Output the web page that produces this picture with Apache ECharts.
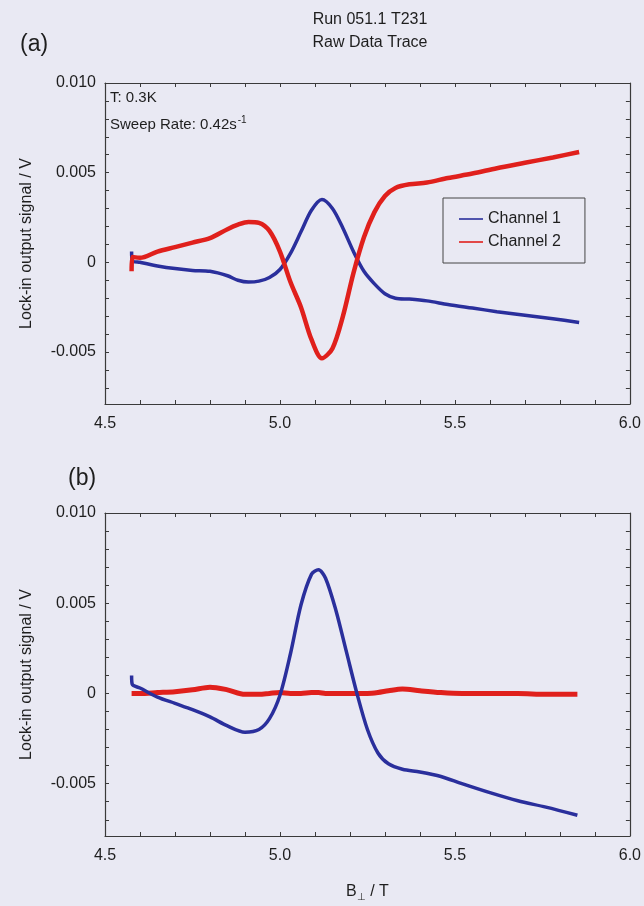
<!DOCTYPE html>
<html><head><meta charset="utf-8">
<script src="https://cdn.jsdelivr.net/npm/echarts@6/dist/echarts.min.js"></script>
<style>html,body{margin:0;padding:0;background:#e9e9f3;}#c{width:644px;height:906px;}</style>
</head><body><div id="c"></div>
<script>
// ---- Data (B in tesla, signal in volts) ----
const topB   = [4.576, 4.578, 4.60, 4.65, 4.70, 4.75, 4.80, 4.85, 4.88, 4.91, 4.94, 4.97, 5.00, 5.03, 5.06, 5.09, 5.12, 5.15, 5.18, 5.21, 5.24, 5.27, 5.30, 5.33, 5.37, 5.42, 5.48, 5.55, 5.62, 5.70, 5.78, 5.855];
const topCh1 = [0.0006, 0.0001, 0.0000, -0.0002, -0.00035, -0.00045, -0.0005, -0.00075, -0.0010, -0.0011, -0.00105, -0.00085, -0.0004, 0.0005, 0.0017, 0.0029, 0.0035, 0.0030, 0.0019, 0.0006, -0.0005, -0.0012, -0.00175, -0.0020, -0.00205, -0.00215, -0.00235, -0.00255, -0.00275, -0.00295, -0.00315, -0.00335];
const topCh2 = [-0.0005, 0.0003, 0.00025, 0.0006, 0.00085, 0.0011, 0.00135, 0.00185, 0.0021, 0.00225, 0.0022, 0.00175, 0.0006, -0.0011, -0.0025, -0.0043, -0.00535, -0.0048, -0.0030, -0.0006, 0.0014, 0.0028, 0.0037, 0.00415, 0.00435, 0.00445, 0.0047, 0.00495, 0.00525, 0.00555, 0.00585, 0.00615];

const botB   = [4.576, 4.578, 4.60, 4.65, 4.70, 4.75, 4.80, 4.85, 4.90, 4.94, 4.97, 5.00, 5.03, 5.06, 5.09, 5.11, 5.13, 5.16, 5.19, 5.22, 5.25, 5.28, 5.31, 5.35, 5.40, 5.46, 5.52, 5.60, 5.68, 5.76, 5.85];
const botCh1 = [0.0010, 0.0005, 0.0003, -0.0002, -0.00055, -0.0009, -0.0013, -0.0018, -0.00215, -0.0020, -0.0014, -0.0001, 0.0022, 0.0049, 0.0066, 0.00685, 0.0064, 0.0046, 0.0023, 0.0000, -0.0020, -0.0033, -0.0039, -0.0042, -0.00435, -0.0046, -0.0050, -0.0055, -0.00595, -0.0063, -0.00675];
const botCh2 = [0.0000, 0.0000, 0.0000, 0.00005, 0.0001, 0.0002, 0.00035, 0.0002, -0.00005, -0.00005, 0.0000, 0.00005, 0.0000, 0.0000, 0.00005, 0.00005, 0.0000, 0.0000, 0.0000, 0.0000, 0.0000, 0.00005, 0.00015, 0.00025, 0.00015, 0.00005, 0.0000, 0.0000, 0.0000, -0.00005, -0.00005];

const seriesNames = ['Channel 1', 'Channel 2'];
const xTickLabels = [4.5, 5.0, 5.5, 6.0];
const yTickLabels = [-0.005, 0, 0.005, 0.010];
const xRange = [4.5, 6.0];
const yRange = [-0.0079, 0.010];

// ---- Styling ----
const FONT = 'Liberation Sans, Arial, sans-serif';
const TXT = '#1e1e1e';
const AX = '#3a3a3a';
const BLUE = '#2a2f9c';
const RED = '#e0201c';

const xMinor = []; for (let i = 45; i <= 60; i++) xMinor.push(i / 10);
const yMinor = []; for (let i = -7; i <= 10; i++) yMinor.push(i / 1000);

function xAxis(grid, pos, labels, name) {
  return {
    type: 'value', gridIndex: grid, position: pos, min: xRange[0], max: xRange[1],
    axisLine: { show: true, onZero: false, lineStyle: { color: AX, width: 1.2 } },
    axisTick: { show: true, inside: true, length: 4, customValues: xMinor, lineStyle: { color: AX } },
    axisLabel: { show: labels, customValues: xTickLabels, margin: 12, fontSize: 16, color: TXT, fontFamily: FONT,
      formatter: v => v.toFixed(1) },
    splitLine: { show: false },
    name: name || '', nameLocation: 'middle', nameGap: 46,
    nameTextStyle: { fontSize: 16, color: TXT, fontFamily: FONT,
      rich: { sub: { fontSize: 10, color: TXT, fontFamily: FONT, padding: [10, 0, 0, 0] } } }
  };
}
function yAxis(grid, pos, labels, name) {
  return {
    type: 'value', gridIndex: grid, position: pos, min: yRange[0], max: yRange[1],
    axisLine: { show: true, onZero: false, lineStyle: { color: AX, width: 1.2 } },
    axisTick: { show: true, inside: true, length: 4, customValues: yMinor, lineStyle: { color: AX } },
    axisLabel: { show: labels, customValues: yTickLabels, margin: 9, fontSize: 16, color: TXT, fontFamily: FONT,
      formatter: v => (Math.abs(v) < 1e-12 ? '0' : v.toFixed(3)) },
    splitLine: { show: false },
    name: name || '', nameLocation: 'middle', nameGap: 70, nameRotate: 90,
    nameTextStyle: { fontSize: 16, color: TXT, fontFamily: FONT }
  };
}
function pairs(xs, ys) { return xs.map((x, i) => [x, ys[i]]); }
function line(name, xi, yi, data, color, w) {
  return { name, type: 'line', xAxisIndex: xi, yAxisIndex: yi, data, symbol: 'none', showSymbol: false,
    smooth: 0.3, color, itemStyle: { color }, lineStyle: { color, width: w }, silent: true, animation: false };
}

const chart = echarts.init(document.getElementById('c'), null, { renderer: 'canvas' });
chart.setOption({
  backgroundColor: '#e9e9f3',
  animation: false,
  grid: [
    { left: 105, top: 83, width: 526, height: 321 },
    { left: 105, top: 513, width: 525, height: 323 }
  ],
  xAxis: [
    xAxis(0, 'bottom', true),
    xAxis(1, 'bottom', true, 'B{sub|⊥} / T'),
    xAxis(0, 'top', false),
    xAxis(1, 'top', false)
  ],
  yAxis: [
    yAxis(0, 'left', true, 'Lock-in output signal / V'),
    yAxis(1, 'left', true, 'Lock-in output signal / V'),
    yAxis(0, 'right', false),
    yAxis(1, 'right', false)
  ],
  legend: {
    data: seriesNames, orient: 'vertical', left: 443, top: 198,
    borderColor: '#444', borderWidth: 1, padding: [13, 24, 13, 16],
    icon: 'rect', itemWidth: 24, itemHeight: 1.6, itemGap: 7,
    textStyle: { fontSize: 16, color: TXT, fontFamily: FONT, lineHeight: 16 }
  },
  series: [
    line(seriesNames[0], 0, 0, pairs(topB, topCh1), BLUE, 3.5),
    line(seriesNames[1], 0, 0, pairs(topB, topCh2), RED, 4.5),
    line(seriesNames[1], 1, 1, pairs(botB, botCh2), RED, 5),
    line(seriesNames[0], 1, 1, pairs(botB, botCh1), BLUE, 3.5)
  ],
  graphic: [
    { type: 'text', x: 370, y: 20, style: { text: 'Run 051.1 T231', align: 'center', verticalAlign: 'middle', fontSize: 16, fill: TXT, fontFamily: FONT } },
    { type: 'text', x: 370, y: 43, style: { text: 'Raw Data Trace', align: 'center', verticalAlign: 'middle', fontSize: 16, fill: TXT, fontFamily: FONT } },
    { type: 'text', x: 20, y: 45, style: { text: '(a)', verticalAlign: 'middle', fontSize: 23, fill: TXT, fontFamily: FONT } },
    { type: 'text', x: 68, y: 479, style: { text: '(b)', verticalAlign: 'middle', fontSize: 23, fill: TXT, fontFamily: FONT } },
    { type: 'text', x: 110, y: 98, style: { text: 'T: 0.3K', verticalAlign: 'middle', fontSize: 15, fill: TXT, fontFamily: FONT } },
    { type: 'text', x: 110, y: 125, style: { text: '{m|Sweep Rate: 0.42s}{s|-1}', verticalAlign: 'middle', fill: TXT,
        rich: { m: { fontSize: 15, fill: TXT, fontFamily: FONT, lineHeight: 20 }, s: { fontSize: 10, fill: TXT, fontFamily: FONT, padding: [0, 0, 9, 1] } } } }
  ]
});
</script>
</body></html>
